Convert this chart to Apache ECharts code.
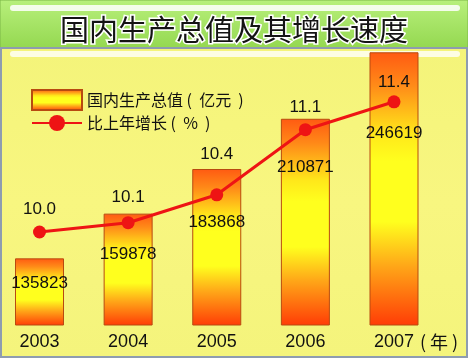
<!DOCTYPE html>
<html>
<head>
<meta charset="utf-8">
<script src="https://cdn.jsdelivr.net/npm/echarts@6/dist/echarts.min.js"></script>
<style>
html,body{margin:0;padding:0;background:#f8f57c;}
#c{width:468px;height:358px;}
</style>
</head>
<body>
<div id="c"></div>
<script>
// ---- data ----
var titleText = '国内生产总值及其增长速度';
var years = ['2003', '2004', '2005', '2006', '2007'];
var gdpValues = [135823, 159878, 183868, 210871, 246619];   // 亿元
var growthValues = [10.0, 10.1, 10.4, 11.1, 11.4];          // %
var gdpName = '国内生产总值 (  亿元  )';
var growthName = '比上年增长 (  %  )';
var xUnit = '( 年 )';

// ---- layout helpers (label placement) ----
var barLabelDistance = [16, 32, 45, 40, 73];
var lineLabelDistance = [8, 10, 25, 7, 4];

var FONT = 'Liberation Sans, Arial, sans-serif';
var CJK = 'Noto Sans CJK SC, sans-serif';

var barGradient = new echarts.graphic.LinearGradient(0, 0, 0, 1, [
  {offset: 0, color: '#ff5a12'},
  {offset: 0.12, color: '#ff8a18'},
  {offset: 0.3, color: '#ffe81a'},
  {offset: 0.4, color: '#ffff1e'},
  {offset: 0.62, color: '#ffff1e'},
  {offset: 0.78, color: '#ffa818'},
  {offset: 1, color: '#ff3c06'}
]);

var chart = echarts.init(document.getElementById('c'), null, {renderer: 'canvas'});

var barData = gdpValues.map(function (v, i) {
  return {value: v, label: {distance: barLabelDistance[i]}};
});
var lineData = growthValues.map(function (v, i) {
  return {value: v, label: {distance: lineLabelDistance[i]}};
});

chart.setOption({
  animation: false,
  backgroundColor: 'transparent',
  graphic: [
    {type: 'rect', z: -10, shape: {x: 0, y: 0, width: 468, height: 48},
     style: {fill: new echarts.graphic.LinearGradient(0, 0, 0, 1, [
       {offset: 0, color: '#b8f07c'}, {offset: 1, color: '#94d850'}]),
       stroke: '#7cb848', lineWidth: 1}},
    {type: 'rect', z: -9, shape: {x: 10, y: 5, width: 450, height: 6, r: 3},
     style: {fill: 'rgba(255,255,255,0.85)'}},
    {type: 'rect', z: -10, shape: {x: 1, y: 48, width: 466, height: 309},
     style: {fill: new echarts.graphic.LinearGradient(0, 0, 0, 1, [
       {offset: 0, color: '#f4f47a'}, {offset: 0.5, color: '#f8f680'}, {offset: 1, color: '#f4f47c'}]),
       stroke: '#8e9cb0', lineWidth: 2}},
    {type: 'rect', z: -9, shape: {x: 10, y: 51, width: 450, height: 6, r: 3},
     style: {fill: 'rgba(255,255,255,0.8)'}}
  ],
  title: {
    text: titleText,
    left: 'center',
    top: 10,
    textStyle: {
      fontFamily: CJK, fontSize: 29, fontWeight: 'normal', color: '#141414',
      textBorderColor: '#ffffff', textBorderWidth: 3
    }
  },
  legend: {
    orient: 'vertical',
    left: 26,
    top: 84,
    itemWidth: 50,
    itemHeight: 20,
    itemGap: 4,
    textStyle: {fontFamily: CJK, fontSize: 16, color: '#111'},
    data: [{name: gdpName, icon: 'rect'}, {name: growthName}]
  },
  grid: {left: 39.5, right: 74, top: 46, bottom: 33},
  xAxis: {
    type: 'category',
    data: years,
    boundaryGap: false,
    axisLine: {show: false},
    axisTick: {show: false},
    axisLabel: {fontFamily: FONT, fontSize: 18, color: '#111', margin: 8},
    name: xUnit,
    nameLocation: 'end',
    nameGap: 25,
    nameTextStyle: {fontFamily: CJK, fontSize: 18, color: '#111', verticalAlign: 'top', padding: [8, 0, 0, 0]}
  },
  yAxis: [
    {type: 'value', min: 100000, max: 250000, show: false, splitLine: {show: false}},
    {type: 'value', min: 9, max: 12, show: false, splitLine: {show: false}}
  ],
  series: [
    {
      name: gdpName,
      type: 'bar',
      yAxisIndex: 0,
      barWidth: 49,
      data: barData,
      itemStyle: {color: barGradient, borderColor: '#b84a10', borderWidth: 1},
      label: {
        show: true, position: 'insideTop',
        fontFamily: FONT, fontSize: 17, color: '#111'
      },
      z: 2
    },
    {
      name: growthName,
      type: 'line',
      yAxisIndex: 1,
      data: lineData,
      symbol: 'circle',
      symbolSize: 13,
      lineStyle: {color: '#ee1414', width: 3},
      itemStyle: {color: '#ee1414'},
      label: {
        show: true, position: 'top',
        fontFamily: FONT, fontSize: 17, color: '#111',
        formatter: function (p) { return p.value.toFixed(1); }
      },
      z: 5
    }
  ]
});
</script>
</body>
</html>
